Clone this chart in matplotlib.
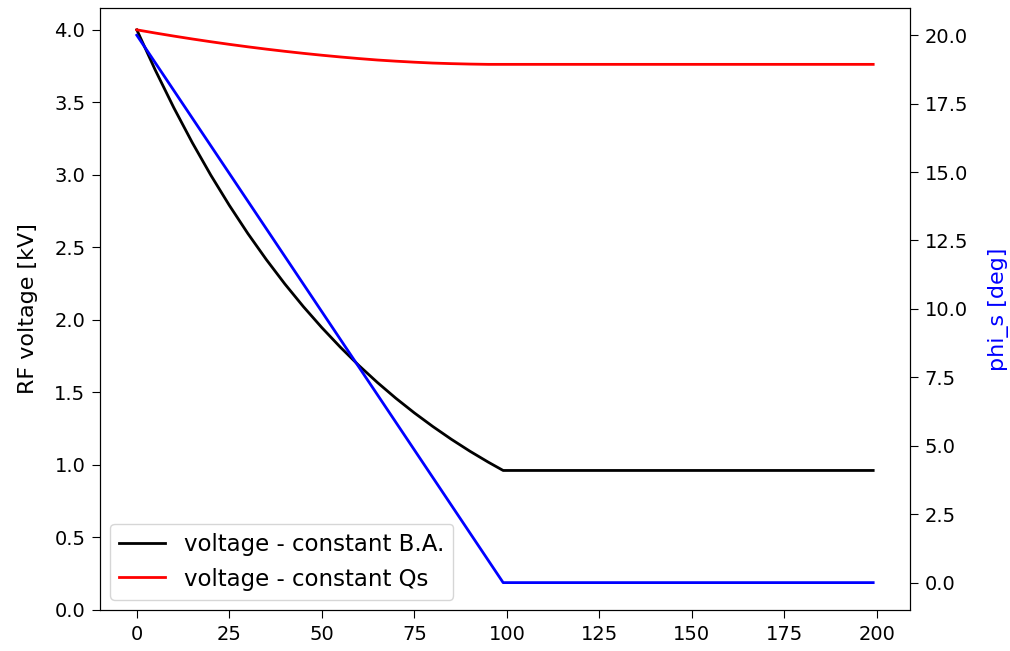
import matplotlib
matplotlib.use("Agg")
import matplotlib.pyplot as plt

# turn number
t_vals = [0, 5, 10, 15, 20, 25, 30, 35, 40, 45, 50, 55, 60, 65, 70, 75, 80, 85,
          90, 95, 99, 199]
# RF voltage [kV], constant bucket area
v_ba = [4.000, 3.722, 3.463, 3.222, 2.998, 2.790, 2.596, 2.416, 2.248, 2.092,
        1.947, 1.812, 1.686, 1.569, 1.460, 1.359, 1.265, 1.177, 1.095, 1.019,
        0.962, 0.962]
# RF voltage [kV], constant Qs
v_qs = [4.000, 3.978, 3.957, 3.937, 3.918, 3.900, 3.883, 3.867, 3.852, 3.838,
        3.825, 3.813, 3.802, 3.792, 3.784, 3.777, 3.771, 3.767, 3.764, 3.762,
        3.762, 3.762]

# synchronous phase [deg]
t_phi = [0, 99, 199]
phi_s = [20.0, 0.0, 0.0]

plt.rcParams['font.size'] = 14

fig = plt.figure(figsize=(10.1, 6.51), dpi=100)
ax = fig.add_axes([0.099, 0.063, 0.802, 0.925])

ax.plot(t_vals, v_ba, color='black', lw=2, label='voltage - constant B.A.')
ax.plot(t_vals, v_qs, color='red', lw=2, label='voltage - constant Qs')
ax.set_ylim(bottom=0)
ax.tick_params(length=5.5, pad=5)
ax.set_ylabel('RF voltage [kV]', fontsize=16, labelpad=12)
ax.legend(loc='lower left', fontsize=16.5, borderaxespad=0.45)

ax2 = ax.twinx()
ax2.plot(t_phi, phi_s, color='blue', lw=2)
ax2.tick_params(length=5.5, pad=5)
ax2.set_ylabel('phi_s [deg]', color='blue', fontsize=16, labelpad=14)

fig.savefig('out.png', dpi=100)
